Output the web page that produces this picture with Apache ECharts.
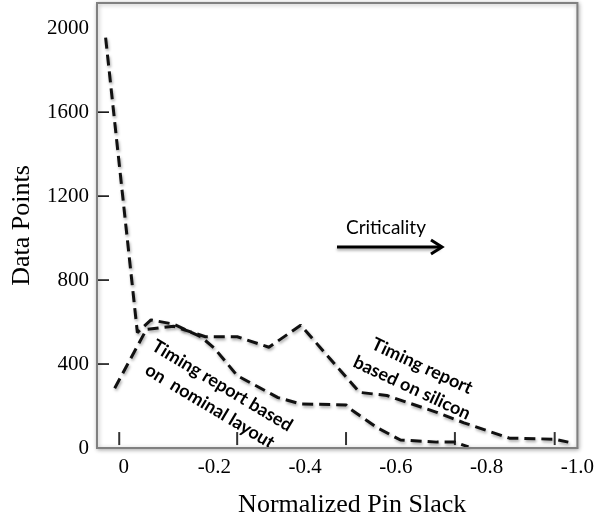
<!DOCTYPE html>
<html>
<head>
<meta charset="utf-8">
<script src="https://cdn.jsdelivr.net/npm/echarts@6/dist/echarts.min.js"></script>
<style>
html,body{margin:0;padding:0;background:#fff;}
#chart{width:597px;height:523px;}
</style>
</head>
<body>
<div id="chart"></div>
<script>
// Normalized pin slack (x) and data-point counts (y)
var nominalSlack = [0.04, -0.03, -0.06, -0.11, -0.17, -0.20, -0.25, -0.34, -0.39, -0.49, -0.50, -0.56, -0.61, -0.69, -0.73, -0.76];
var nominalCount = [1955, 550, 610, 590, 530, 475, 345, 240, 210, 205, 185, 95, 38, 28, 28, 5];
var siliconSlack = [0.02, -0.05, -0.11, -0.18, -0.25, -0.32, -0.39, -0.52, -0.58, -0.69, -0.75, -0.85, -0.95, -0.98];
var siliconCount = [285, 565, 580, 530, 530, 480, 585, 265, 250, 170, 120, 47, 42, 28];
// inner tick marks drawn inside the plot near the x axis
var innerTickSlack = [0.01, -0.25, -0.49, -0.73, -0.95];
var innerTickLevel = 45;
// inner tick marks along the y axis
var yInnerTicks = [400, 800, 1200, 1600];
// axis tick labels
var xTickValues = [0, -0.2, -0.4, -0.6, -0.8, -1.0];
var yTickValues = [0, 400, 800, 1200, 1600, 2000];
var xMin = -1.0, xMax = 0.059, yMax = 2120;

function pairs(xs, ys) { return xs.map(function (x, i) { return [x, ys[i]]; }); }

var dashStyle = {
  color: '#111', width: 3, type: [11, 6],
  shadowColor: 'rgba(0,0,0,0.35)', shadowBlur: 3, shadowOffsetX: 1, shadowOffsetY: 2
};

var baseGraphics = [
  {
    type: 'text', left: 346, top: 218,
    style: {text: 'Criticality', font: '19px Lato', fill: '#000'}
  },
  {
    type: 'line', shape: {x1: 337, y1: 247, x2: 440, y2: 247},
    style: {stroke: '#000', lineWidth: 3, shadowColor: 'rgba(0,0,0,0.35)', shadowBlur: 3, shadowOffsetY: 2}
  },
  {
    type: 'polyline', shape: {points: [[431, 240], [442, 247], [431, 254]]},
    style: {stroke: '#000', lineWidth: 3, fill: null}
  },
  {
    type: 'text', x: 216, y: 396, rotation: -31 * Math.PI / 180,
    style: {
      text: 'Timing report based\non  nominal layout', font: 'bold 18px Lato', fill: '#000',
      align: 'center', verticalAlign: 'middle', lineHeight: 24
    }
  },
  {
    type: 'text', x: 417, y: 377, rotation: -25 * Math.PI / 180,
    style: {
      text: 'Timing report\nbased on silicon', font: 'bold 18px Lato', fill: '#000',
      align: 'center', verticalAlign: 'middle', lineHeight: 24
    }
  }
];

var chart = echarts.init(document.getElementById('chart'), null, {renderer: 'canvas'});
chart.setOption({
  animation: false,
  backgroundColor: '#fff',
  grid: {
    left: 97, right: 17, top: 3, bottom: 69,
    show: true, backgroundColor: '#fff', borderColor: '#808080', borderWidth: 2,
    shadowColor: 'rgba(0,0,0,0.3)', shadowBlur: 4, shadowOffsetX: 1, shadowOffsetY: 1
  },
  xAxis: {
    type: 'value', inverse: true, min: xMin, max: xMax, z: 5,
    splitLine: {show: false},
    axisLine: {show: true, onZero: false, lineStyle: {color: '#808080', width: 2}},
    axisTick: {show: false},
    name: 'Normalized Pin Slack', nameLocation: 'middle', nameGap: 44,
    nameTextStyle: {fontFamily: 'Liberation Serif', fontSize: 26, color: '#000', padding: [0, 0, 0, 30]},
    axisLabel: {
      customValues: xTickValues, margin: 9,
      fontFamily: 'Liberation Serif', fontSize: 21, color: '#000',
      formatter: function (v) { return v === 0 ? '0' : v.toFixed(1); }
    }
  },
  yAxis: {
    type: 'value', min: 0, max: yMax, z: 5,
    splitLine: {show: false},
    axisLine: {show: true, onZero: false, lineStyle: {color: '#808080', width: 2}},
    axisTick: {show: false},
    name: 'Data Points', nameLocation: 'middle', nameGap: 62,
    nameTextStyle: {fontFamily: 'Liberation Serif', fontSize: 26, color: '#000'},
    axisLabel: {
      customValues: yTickValues, margin: 8, fontFamily: 'Liberation Serif', fontSize: 21, color: '#000',
      formatter: function (v) { return String(v); }
    }
  },
  series: [
    {
      name: 'Timing report based on nominal layout', type: 'line',
      data: pairs(nominalSlack, nominalCount), symbol: 'none', lineStyle: dashStyle, z: 3
    },
    {
      name: 'Timing report based on silicon', type: 'line',
      data: pairs(siliconSlack, siliconCount), symbol: 'none', lineStyle: dashStyle, z: 3
    },
    {
      name: 'ticks', type: 'scatter', silent: true,
      data: innerTickSlack.map(function (x) { return [x, innerTickLevel]; }),
      symbol: 'rect', symbolSize: [2, 13], itemStyle: {color: '#000'}, z: 2
    }
  ],
  graphic: baseGraphics
});

// y-axis inner ticks placed through the chart's own scale
var tickGraphics = yInnerTicks.map(function (v) {
  var p = chart.convertToPixel({gridIndex: 0}, [xMax, v]);
  return {
    type: 'line', z: 100,
    shape: {x1: p[0] + 1, y1: p[1], x2: p[0] + 12, y2: p[1]},
    style: {stroke: '#000', lineWidth: 1.5}
  };
});
chart.setOption({graphic: baseGraphics.concat(tickGraphics)});
</script>
</body>
</html>
